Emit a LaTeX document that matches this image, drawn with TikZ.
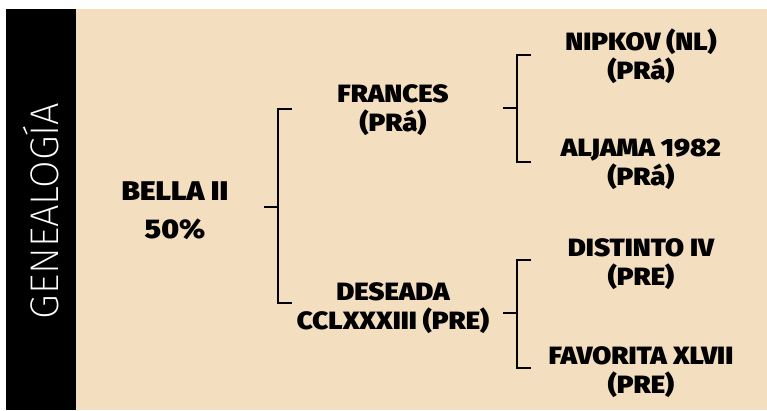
\documentclass[tikz,border=0pt]{standalone}
\usepackage{fontspec}
\setmainfont{Fira Sans}
\newfontfamily\negrafont{Fira Sans Black}[FakeStretch=1.1]
\newfontfamily\finafont{Fira Sans ExtraLight}
\usepackage{tikz}
\usetikzlibrary{positioning, calc}
\definecolor{fondoBeige}{HTML}{F4DEC0}
\definecolor{barraNegra}{HTML}{000000}

\tikzset{
    caballo/.style={font=\negrafont\fontsize{25}{29}\selectfont, align=center, inner sep=0pt},
    llave/.style={line width=2pt, black}
}

\begin{document}
\begin{tikzpicture}[x=1pt, y=-1pt]
    \useasboundingbox (0,0) rectangle (767,410);
    % Fondo
    \fill[white] (0,0) rectangle (767,410);
    \fill[fondoBeige] (76,9) rectangle (767,410);
    \fill[barraNegra] (6,9) rectangle (76,410);
    \node[white, rotate=90, font=\finafont\fontsize{40}{40}\selectfont, inner sep=0pt] (titulo) at (41,211) {GENEALOGÍA};

    % Ejemplar
    \node[caballo, font=\negrafont\fontsize{27}{38}\selectfont] (bella) at (175,211) {BELLA II\\50\%};

    % Padres
    \node[caballo] (frances) at (393,110) {FRANCES\\(PRá)};
    \node[caballo] (deseada) at (393,308) {DESEADA\\CCLXXXIII (PRE)};

    % Abuelos
    \node[caballo] (nipkov) at (641,56) {NIPKOV (NL)\\(PRá)};
    \node[caballo] (aljama) at (641,164) {ALJAMA 1982\\(PRá)};
    \node[caballo] (distinto) at (641,264) {DISTINTO IV\\(PRE)};
    \node[caballo] (favorita) at (641,372) {FAVORITA XLVII\\(PRE)};

    % Llaves
    \coordinate (ll1) at (264,207);
    \coordinate (ll1a) at (292,109);
    \coordinate (ll1b) at (292,303);
    \draw[llave] (ll1) -- ++(14,0);
    \draw[llave] (ll1a) -| ($(ll1)+(14,0)$) |- (ll1b);

    \coordinate (ll2) at (503,108);
    \coordinate (ll2a) at (531,55);
    \coordinate (ll2b) at (531,162);
    \draw[llave] (ll2) -- ++(14,0);
    \draw[llave] (ll2a) -| ($(ll2)+(14,0)$) |- (ll2b);

    \coordinate (ll3) at (503,313);
    \coordinate (ll3a) at (531,260);
    \coordinate (ll3b) at (531,368);
    \draw[llave] (ll3) -- ++(14,0);
    \draw[llave] (ll3a) -| ($(ll3)+(14,0)$) |- (ll3b);
\end{tikzpicture}
\end{document}
